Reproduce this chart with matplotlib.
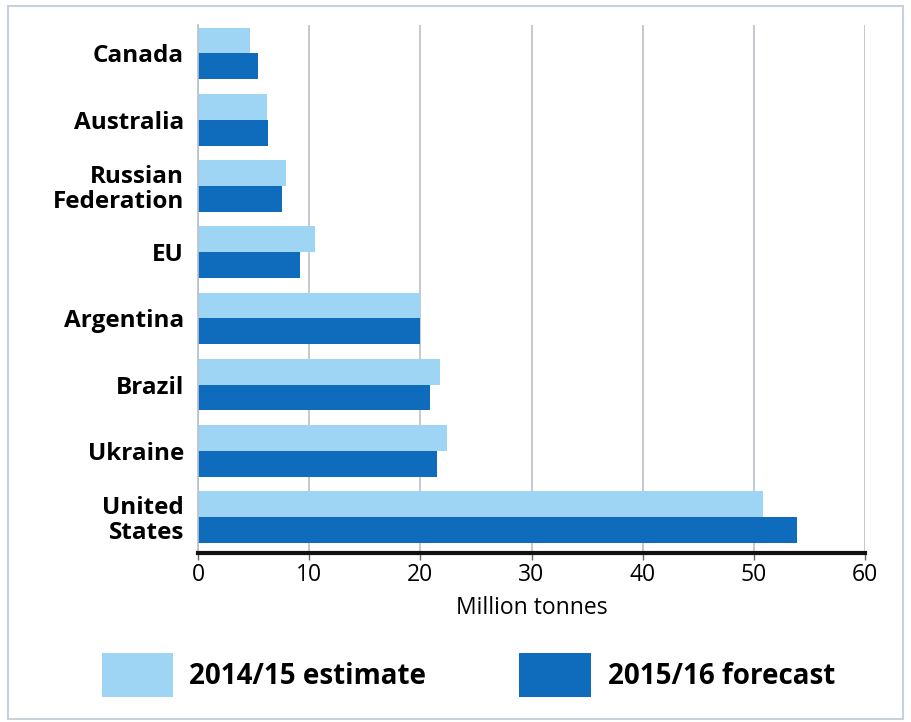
import matplotlib
matplotlib.use("Agg")
import matplotlib.pyplot as plt
from matplotlib.patches import Rectangle

countries = ["Canada", "Australia", "Russian\nFederation", "EU", "Argentina",
             "Brazil", "Ukraine", "United\nStates"]
estimate_2014_15 = [4.7, 6.2, 7.9, 10.5, 20.0, 21.8, 22.4, 50.8]
forecast_2015_16 = [5.4, 6.3, 7.6, 9.2, 20.0, 20.9, 21.5, 53.9]
x_ticks = [0, 10, 20, 30, 40, 50, 60]
series_labels = ["2014/15 estimate", "2015/16 forecast"]

LIGHT = "#9fd5f4"
DARK = "#0f6cbd"
GRID = "#b9bfcc"

plt.rcParams["font.family"] = ["Open Sans", "DejaVu Sans"]

W, H = 912, 722
fig = plt.figure(figsize=(W / 100, H / 100), dpi=100)
fig.patch.set_facecolor("white")

# outer frame
fig.patches.append(Rectangle((8 / W, 1 - 719 / H), (903 - 8) / W, (719 - 6) / H,
                             transform=fig.transFigure, fill=False,
                             edgecolor="#c9d1dd", linewidth=1.5))

ax = fig.add_axes([198 / W, 1 - 553 / H, (865 - 198) / W, (553 - 25) / H])

bar_h = 0.39
pos = list(range(len(countries)))
ax.barh([p - bar_h / 2 for p in pos], estimate_2014_15, height=bar_h, color=LIGHT, zorder=2)
ax.barh([p + bar_h / 2 for p in pos], forecast_2015_16, height=bar_h, color=DARK, zorder=2)

ax.set_ylim(7.544, -0.43)
ax.set_xlim(0, 60)
ax.set_yticks(pos)
ax.set_yticklabels(countries, fontsize=17.5, fontweight="bold", linespacing=1.08)
ax.tick_params(axis="y", length=0, pad=10)
ax.set_xticks(x_ticks)
ax.set_xticklabels([str(t) for t in x_ticks], fontsize=16.5)
ax.tick_params(axis="x", length=5, width=1, color="#666666", pad=2)

ax.xaxis.grid(True, color=GRID, linewidth=1.2, zorder=0)
ax.set_axisbelow(True)
for side in ("top", "right"):
    ax.spines[side].set_visible(False)
ax.spines["left"].set_color(GRID)
ax.spines["left"].set_linewidth(1.2)
ax.spines["bottom"].set_color("#111111")
ax.spines["bottom"].set_linewidth(3)

ax.set_xlabel("Million tonnes", fontsize=16.5, labelpad=7)

# legend
for (x0, x1), color, label, tx in [((102, 173), LIGHT, series_labels[0], 189),
                                   ((519, 591), DARK, series_labels[1], 608)]:
    fig.patches.append(Rectangle((x0 / W, 1 - 697 / H), (x1 - x0) / W, 44 / H,
                                 transform=fig.transFigure, facecolor=color,
                                 edgecolor="none"))
    fig.text(tx / W, 1 - 676 / H, label, fontsize=20, fontweight="bold",
             va="center", ha="left")

fig.savefig("out.png", dpi=100)
